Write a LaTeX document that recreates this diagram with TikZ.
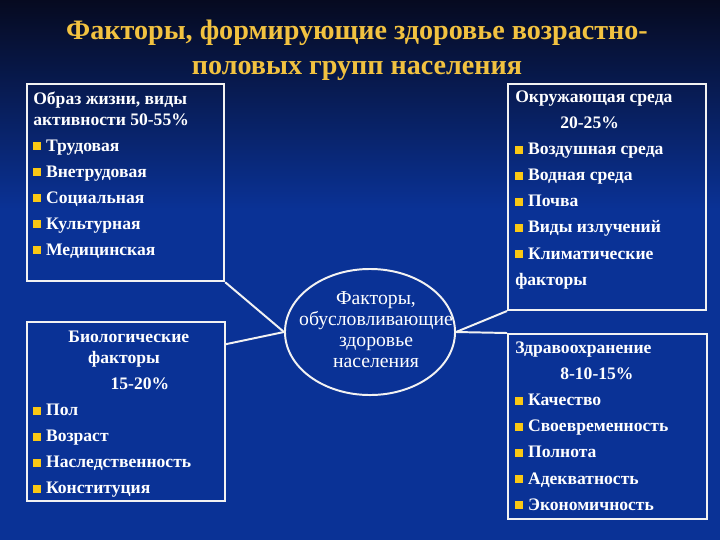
\documentclass[tikz,border=0pt]{standalone}
\usepackage{fontspec}
\setmainfont{Liberation Serif}
\usetikzlibrary{shapes.geometric}
\definecolor{bgtop}{RGB}{6,10,32}
\definecolor{bgblue}{RGB}{10,50,150}
\definecolor{gold}{RGB}{242,194,64}
\definecolor{bulletc}{RGB}{250,200,20}
\newcommand\sqbul{\textcolor{bulletc}{\raisebox{0.8pt}{\rule{5.5pt}{5.5pt}}}\hspace{3.6pt}}

\begin{document}
\begin{tikzpicture}[x=0.025cm, y=-0.025cm,
    frame/.style={draw=white!90!gray, line width=1.4pt, anchor=north west, inner sep=0pt},
    txt/.style={text=white, font=\fontsize{12.5}{18.5}\selectfont\bfseries, align=left, anchor=north west, inner sep=0pt},
    link/.style={draw=white!90!gray, line width=1.4pt}
  ]
  \shade[top color=bgtop, bottom color=bgblue] (0,0) rectangle (720,210);
  \fill[bgblue] (0,210) rectangle (720,540);
  \useasboundingbox (0,0) rectangle (720,540);

  \node[text=gold, font=\fontsize{20}{25}\selectfont\bfseries, align=center] (title) at (357,50)
    {Факторы, формирующие здоровье возрастно-\\половых групп населения};

  \node[frame, minimum width=4.93cm, minimum height=4.93cm] (life) at (26,83) {};
  \node[frame, minimum width=4.95cm, minimum height=5.65cm] (env) at (507,83) {};
  \node[frame, minimum width=4.95cm, minimum height=4.48cm] (bio) at (26,321) {};
  \node[frame, minimum width=4.98cm, minimum height=4.63cm] (care) at (507,333) {};

  \node[txt] (lifetxt) at (33,92) {Образ жизни, виды\\[-4pt]
    активности 50-55\%\\
    \sqbul Трудовая\\
    \sqbul Внетрудовая\\
    \sqbul Социальная\\
    \sqbul Культурная\\
    \sqbul Медицинская};

  \node[txt] (envtxt) at (515,91) {Окружающая среда\\
    \hspace*{32pt}20-25\%\\
    \sqbul Воздушная среда\\
    \sqbul Водная среда\\
    \sqbul Почва\\
    \sqbul Виды излучений\\
    \sqbul Климатические\\
    факторы};

  \node[txt] (biotxt) at (33,331) {\hspace*{25pt}Биологические\\[-3.5pt]
    \hspace*{39pt}факторы\\
    \hspace*{55pt}15-20\%\\
    \sqbul Пол\\
    \sqbul Возраст\\
    \sqbul Наследственность\\
    \sqbul Конституция};

  \node[txt] (caretxt) at (515,342) {Здравоохранение\\
    \hspace*{32pt}8-10-15\%\\
    \sqbul Качество\\
    \sqbul Своевременность\\
    \sqbul Полнота\\
    \sqbul Адекватность\\
    \sqbul Экономичность};

  \node[ellipse, draw=white!90!gray, line width=1.4pt, minimum width=4.25cm, minimum height=3.15cm] (core) at (370,332) {};
  \node[text=white, font=\fontsize{14}{15}\selectfont, align=center] (coretxt) at (376,330)
    {Факторы,\\обусловливающие\\здоровье\\населения};

  \draw[link] (life.south east) -- (core.west);
  \draw[link] (bio.34) -- (core.west);
  \draw[link] (core.east) -- (env.south west);
  \draw[link] (core.east) -- (care.north west);
\end{tikzpicture}
\end{document}
